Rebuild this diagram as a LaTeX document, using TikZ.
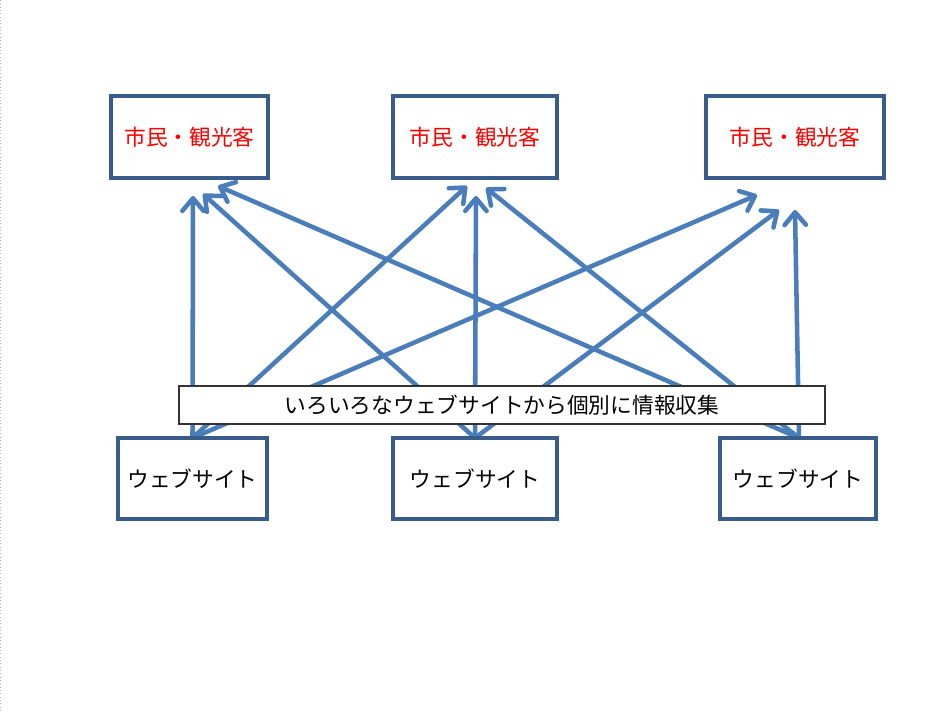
\documentclass[tikz,border=0pt]{standalone}
\usepackage{fontspec}
\setmainfont{Noto Sans CJK JP}
\usetikzlibrary{arrows.meta}
\definecolor{arr}{HTML}{4A7EBB}
\definecolor{bord}{HTML}{385D8A}
\pgfdeclarelayer{bg}
\pgfsetlayers{bg,main}
\tikzset{
  px/.style={x=0.75pt,y=-0.75pt},
  txt/.style={font=\fontsize{16.3pt}{18pt}\selectfont},
  topbox/.style={txt,draw=bord,line width=2.6pt,outer sep=0pt,fill=white,minimum width=#1*0.75pt,minimum height=82*0.75pt,inner sep=0pt,text=red},
  botbox/.style={txt,draw=bord,line width=2.6pt,outer sep=0pt,fill=white,minimum width=#1*0.75pt,minimum height=81*0.75pt,inner sep=0pt,text=black},
  labbox/.style={txt,draw=black!80,line width=0.8pt,fill=white,minimum width=646*0.75pt,minimum height=38*0.75pt,inner sep=0pt},
  conn/.style={draw=arr,line width=3.4pt,line cap=round,-{Straight Barb[length=9.5pt,width=16pt,line width=3.4pt,round]}},
}
\begin{document}
\begin{tikzpicture}[px]
\useasboundingbox (0,0) rectangle (950,712);
\begin{pgfonlayer}{bg}
\fill[white] (0,0) rectangle (950,712);
\draw[gray!60,line width=0.5pt,dotted] (0.5,0) -- (0.5,712);
\end{pgfonlayer}
% top boxes
\node[topbox=157] (t1) at (189.5,137) {市民・観光客};
\node[topbox=164] (t2) at (475,137) {市民・観光客};
\node[topbox=178] (t3) at (795,137) {市民・観光客};
% bottom boxes
\node[botbox=149] (b1) at (192.5,478.5) {ウェブサイト};
\node[botbox=164] (b2) at (475,478.5) {ウェブサイト};
\node[botbox=156] (b3) at (798,478.5) {ウェブサイト};
% arrow tip coordinates
\coordinate (e11) at (193,196);
\coordinate (e12) at (203,194);
\coordinate (e13) at (218,186);
\coordinate (e21) at (467,186);
\coordinate (e22) at (476,196);
\coordinate (e23) at (486,188);
\coordinate (e31) at (757,195);
\coordinate (e32) at (779,210);
\coordinate (e33) at (795,210);
\node[labbox] (lab) at (502,405) {いろいろなウェブサイトから個別に情報収集};
\begin{pgfonlayer}{bg}
\draw[conn] (b1.north) -- (e11);
\draw[conn] (b1.north) -- (e21);
\draw[conn] (b1.north) -- (e31);
\draw[conn] (b2.north) -- (e12);
\draw[conn] (b2.north) -- (e22);
\draw[conn] (b2.north) -- (e32);
\draw[conn] ([xshift=0.75pt]b3.north) -- (e13);
\draw[conn] ([xshift=0.75pt]b3.north) -- (e23);
\draw[conn] ([xshift=0.75pt]b3.north) -- (e33);
\end{pgfonlayer}
\end{tikzpicture}
\end{document}
